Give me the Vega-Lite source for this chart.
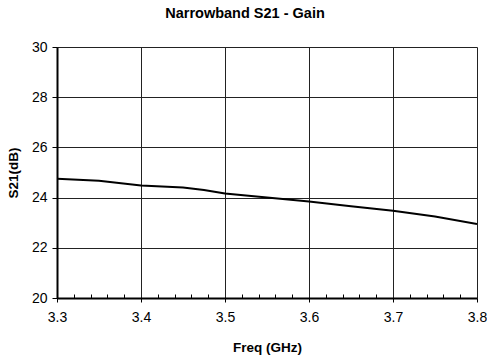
{
  "$schema": "https://vega.github.io/schema/vega-lite/v6.json",
  "autosize": "none",
  "width": 420,
  "height": 251,
  "padding": {"left": 57, "top": 47, "right": 10, "bottom": 59},
  "background": "white",
  "config": {
    "font": "Liberation Sans",
    "view": {"stroke": null}
  },
  "title": {
    "text": "Narrowband S21 - Gain",
    "fontSize": 14.5,
    "fontWeight": "bold",
    "font": "Liberation Sans",
    "color": "#000",
    "anchor": "middle",
    "dx": -22,
    "offset": 19
  },
  "data": {
    "values": [
      {"freq": 3.3, "s21": 24.75},
      {"freq": 3.35, "s21": 24.67},
      {"freq": 3.4, "s21": 24.48},
      {"freq": 3.45, "s21": 24.4},
      {"freq": 3.475, "s21": 24.3},
      {"freq": 3.5, "s21": 24.16},
      {"freq": 3.55, "s21": 24.0},
      {"freq": 3.6, "s21": 23.84},
      {"freq": 3.65, "s21": 23.66},
      {"freq": 3.7, "s21": 23.48},
      {"freq": 3.75, "s21": 23.25},
      {"freq": 3.8, "s21": 22.95}
    ]
  },
  "layer": [
    {
      "mark": {"type": "line", "color": "#000", "strokeWidth": 2, "clip": true},
      "encoding": {
        "x": {
          "field": "freq",
          "type": "quantitative",
          "scale": {"domain": [3.3, 3.8], "nice": false, "zero": false},
          "axis": {
            "title": "Freq (GHz)",
            "titleFontSize": 13.5,
            "titleFontWeight": "bold",
            "titleColor": "#000",
            "titlePadding": 16,
            "values": [3.3, 3.4, 3.5, 3.6, 3.7, 3.8],
            "format": ".1f",
            "labelFontSize": 14,
            "labelColor": "#000",
            "labelPadding": 8,
            "labelFlush": false,
            "tickSize": 4,
            "tickColor": "#000",
            "domainColor": "#000",
            "domainWidth": 2,
            "grid": true,
            "gridColor": "#222",
            "gridWidth": 1,
            "gridOpacity": 1,
            "zindex": 0
          }
        },
        "y": {
          "field": "s21",
          "type": "quantitative",
          "scale": {"domain": [20, 30], "nice": false, "zero": false},
          "axis": {
            "title": "S21(dB)",
            "titleFontSize": 13.5,
            "titleFontWeight": "bold",
            "titleColor": "#000",
            "titlePadding": 11,
            "values": [20, 22, 24, 26, 28, 30],
            "labelFontSize": 14,
            "labelColor": "#000",
            "labelPadding": 5,
            "labelFlush": false,
            "tickSize": 5,
            "tickColor": "#000",
            "domainColor": "#000",
            "domainWidth": 2,
            "grid": true,
            "gridColor": "#222",
            "gridWidth": 1,
            "gridOpacity": 1,
            "zindex": 0
          }
        }
      }
    },
    {
      "mark": {"type": "point", "opacity": 0},
      "encoding": {
        "x": {
          "field": "freq",
          "type": "quantitative",
          "axis": {
            "orient": "bottom",
            "title": null,
            "values": [3.32, 3.34, 3.36, 3.38, 3.42, 3.44, 3.46, 3.48, 3.52, 3.54, 3.56, 3.58, 3.62, 3.64, 3.66, 3.68, 3.72, 3.74, 3.76, 3.78],
            "labels": false,
            "domain": false,
            "grid": false,
            "tickSize": -4,
            "tickColor": "#000",
            "zindex": 1
          }
        },
        "y": {"field": "s21", "type": "quantitative"}
      }
    }
  ],
  "resolve": {"axis": {"x": "independent"}}
}
